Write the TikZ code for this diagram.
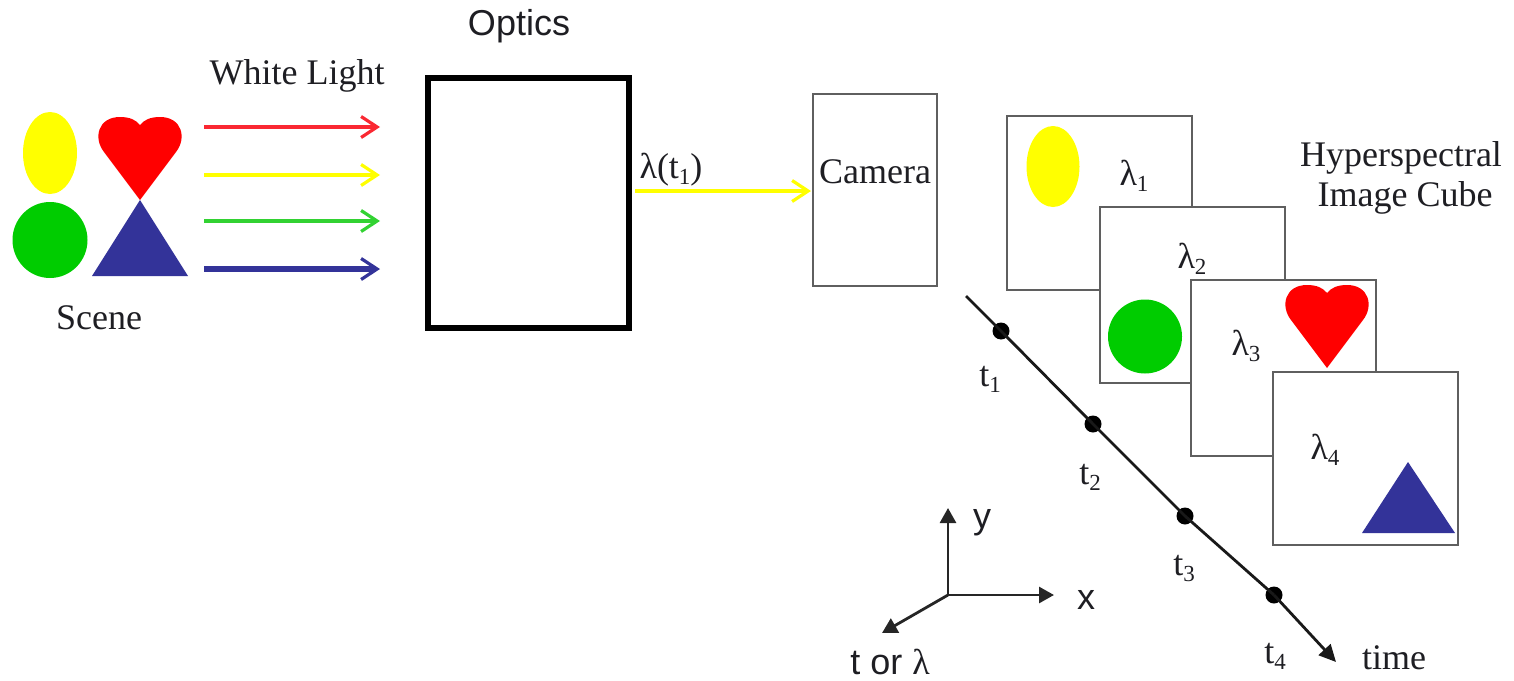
\documentclass[tikz,border=0pt]{standalone}
\usepackage{fontspec}
\setmainfont{Liberation Serif}
\newfontfamily\arialfont{Liberation Sans}
\usetikzlibrary{arrows.meta,shapes.geometric}
\definecolor{sceneblue}{RGB}{51,51,153}
\definecolor{scenegreen}{RGB}{0,204,0}
\definecolor{arrowgreen}{RGB}{50,210,50}
\definecolor{arrowred}{RGB}{250,40,50}
\definecolor{pureyellow}{RGB}{255,255,0}
\definecolor{framegray}{RGB}{95,95,95}
\definecolor{inktext}{RGB}{30,30,35}
\newcommand{\subnum}[1]{\raisebox{-6pt}{\fontsize{23}{25}\selectfont #1}}
\tikzset{
  serif/.style={font=\fontsize{36}{40}\selectfont, text=inktext, inner sep=0pt},
  sans/.style={font=\arialfont\fontsize{36}{40}\selectfont, text=inktext, inner sep=0pt},
  frame/.style={draw=framegray, line width=2pt, fill=white, rectangle, inner sep=0pt, outer sep=0pt},
  lightarrow/.style={line width=3.4pt, -{Straight Barb[length=16pt,width=21pt,line width=3.2pt]}},
  axisarrow/.style={draw=black!85, line width=2.8pt, -{Triangle[length=15pt,width=16pt]}},
  tdot/.style={circle, fill=black, minimum size=17pt, inner sep=0pt},
  blob/.style={ellipse, inner sep=0pt, outer sep=0pt},
  heartpic/.pic={\fill[red] (0,0) -- (-36,-48) .. controls (-47,-62) and (-42,-83) .. (-20,-83)
     .. controls (-10,-83) and (-4,-80) .. (0,-75) .. controls (4,-80) and (10,-83) .. (20,-83)
     .. controls (42,-83) and (47,-62) .. (36,-48) -- cycle;},
}
\begin{document}
\begin{tikzpicture}[x=1pt,y=-1pt]
\useasboundingbox (0,0) rectangle (1514,680);
% scene
\node[blob, fill=pureyellow, minimum width=54pt, minimum height=82pt] (sy) at (50,153) {};
\node[blob, fill=scenegreen, minimum width=75pt, minimum height=76pt] (sg) at (50,240) {};
\pic at (140,200) {heartpic};
\fill[sceneblue] (140,200) -- (188,276) -- (92,276) -- cycle;
\node[serif] (scene) at (99,318) {Scene};
\node[serif] (white) at (297,76) {White Light};
% light arrows
\coordinate (r0) at (204,127); \coordinate (r1) at (380,127);
\coordinate (y0) at (204,175); \coordinate (y1) at (380,175);
\coordinate (g0) at (204,221); \coordinate (g1) at (380,221);
\coordinate (b0) at (204,269); \coordinate (b1) at (380,269);
\draw[lightarrow, draw=arrowred] (r0) -- (r1);
\draw[lightarrow, draw=pureyellow] (y0) -- (y1);
\draw[lightarrow, draw=arrowgreen] (g0) -- (g1);
\draw[lightarrow, draw=sceneblue, line width=5.5pt] (b0) -- (b1);
% optics
\node[draw=black, line width=6pt, rectangle, minimum width=201pt, minimum height=250pt, inner sep=0pt, outer sep=3pt] (optics) at (528.5,203) {};
\node[sans] (opticslabel) at (519,26) {Optics};
\coordinate (beam) at (635,191);
\node[draw=framegray, line width=1.8pt, rectangle, minimum width=124pt, minimum height=192pt, inner sep=0pt, outer sep=0pt] (camera) at (875,190) {};
\node[serif] at (875,172) {Camera};
\coordinate (camin) at (811,191);
\draw[lightarrow, draw=pureyellow] (beam) -- (camin);
\node[serif] (lamt) at (671,170) {λ(t\subnum{1})};
% frames
\node[frame, minimum width=185pt, minimum height=174pt] (f1) at (1099.5,203) {};
\node[blob, fill=pureyellow, minimum width=53pt, minimum height=81pt] (fy) at (1053,166.5) {};
\node[serif] at (1134,176) {λ\subnum{1}};
\node[frame, minimum width=185pt, minimum height=176pt] (f2) at (1192.5,295) {};
\node[serif] at (1192,259) {λ\subnum{2}};
\node[blob, fill=scenegreen, minimum width=74pt, minimum height=74pt] (fg) at (1145,336.5) {};
\node[frame, minimum width=185pt, minimum height=176pt] (f3) at (1283.5,368) {};
\node[serif] at (1246,346) {λ\subnum{3}};
\pic at (1327,368) {heartpic};
\node[frame, minimum width=185pt, minimum height=173pt] (f4) at (1365.5,458.5) {};
\node[serif] at (1325,450) {λ\subnum{4}};
\fill[sceneblue] (1408,462) -- (1455,533) -- (1362,533) -- cycle;
\node[serif] (cube1) at (1401,158) {Hyperspectral};
\node[serif] (cube2) at (1405,198) {Image Cube};
% time line
\coordinate (ts) at (966,296);
\coordinate (te) at (1336,662);
\node[tdot] (t1) at (1001,331) {};
\node[tdot] (t2) at (1093,424) {};
\node[tdot] (t3) at (1185,516) {};
\node[tdot] (t4) at (1274,595) {};
\draw[line width=2.8pt, black!90] (ts) -- (t1.center) -- (t2.center) -- (t3.center) -- (t4.center);
\draw[line width=2.8pt, black!90, -{Triangle[length=17pt,width=16pt]}] (t4.center) -- (te);
\node[serif] at (990,379) {t\subnum{1}};
\node[serif] at (1090,477) {t\subnum{2}};
\node[serif] at (1184,568) {t\subnum{3}};
\node[serif] at (1275,656) {t\subnum{4}};
\node[serif] at (1394,658) {time};
% axes
\coordinate (o) at (948,595);
\coordinate (ay) at (948,508);
\coordinate (ax) at (1054,595);
\coordinate (at) at (882,633);
\draw[axisarrow] (o) -- (ay);
\draw[axisarrow] (o) -- (ax);
\draw[axisarrow] (o) -- (at);
\node[sans] at (982,523) {y};
\node[sans] at (1086,600) {x};
\node[sans] at (890,662) {t or {\rmfamily λ}};
\end{tikzpicture}
\end{document}
